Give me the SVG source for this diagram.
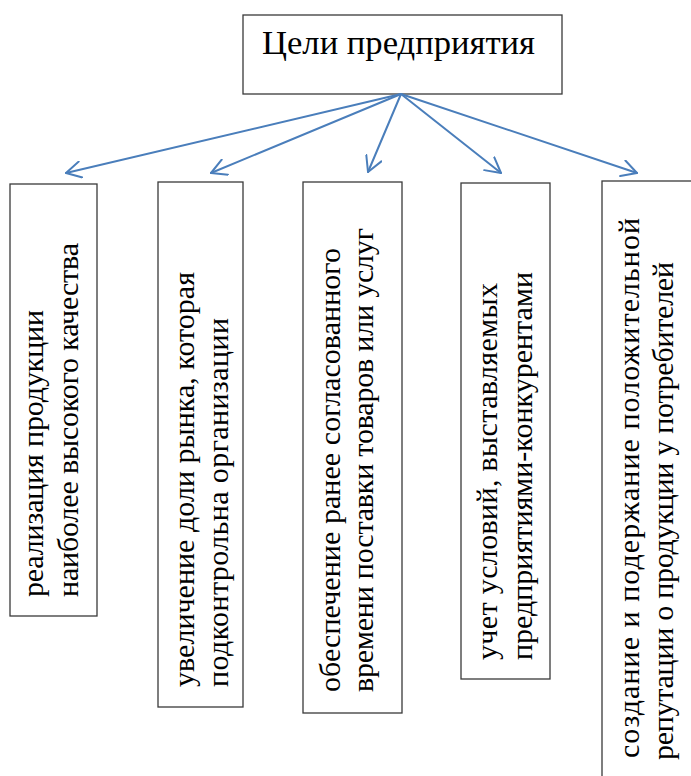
<svg xmlns="http://www.w3.org/2000/svg" width="691" height="776" viewBox="0 0 691 776">
<style>
.box{fill:#fff;stroke:#3a3a3a;stroke-width:1.3}
.t{font-size:30px;fill:#000}
.title{font-size:34.5px;fill:#000}
.conn{stroke:#4a7ebb;stroke-width:2;fill:none;stroke-linecap:round;marker-end:url(#arr)}
</style>
<defs>
<marker id="arr" viewBox="0 0 17 18" refX="16" refY="9" markerWidth="17" markerHeight="18" markerUnits="userSpaceOnUse" orient="auto">
<path d="M1,0.8 L16,9 L1,17.2" fill="none" stroke="#4a7ebb" stroke-width="2" stroke-linecap="round" stroke-linejoin="round"/>
</marker>
</defs>
<rect width="691" height="776" fill="#fff"/>
<g font-family="'Liberation Serif', 'Times New Roman', serif">
<g id="root">
<rect class="box" x="243" y="15" width="319" height="79"/>
<text class="title" x="262" y="54" textLength="273" lengthAdjust="spacingAndGlyphs">Цели предприятия</text>
</g>
<g id="connectors">
<line class="conn" x1="401" y1="94" x2="66" y2="173"/>
<line class="conn" x1="401" y1="94" x2="211" y2="173"/>
<line class="conn" x1="401" y1="94" x2="368" y2="172"/>
<line class="conn" x1="401" y1="94" x2="501" y2="173"/>
<line class="conn" x1="401" y1="94" x2="637" y2="173"/>
</g>
<g id="goal1">
<rect class="box" x="10" y="184" width="87" height="432"/>
<g transform="translate(43,597) rotate(-90)"><text class="t" x="0" y="0" textLength="287" lengthAdjust="spacing">реализация продукции</text></g>
<g transform="translate(78,597) rotate(-90)"><text class="t" x="0" y="0" textLength="354" lengthAdjust="spacing">наиболее высокого качества</text></g>
</g>
<g id="goal2">
<rect class="box" x="158" y="182" width="85" height="525"/>
<g transform="translate(194,687) rotate(-90)"><text class="t" x="0" y="0" textLength="415" lengthAdjust="spacing">увеличение доли рынка, которая</text></g>
<g transform="translate(228,687) rotate(-90)"><text class="t" x="0" y="0" textLength="369" lengthAdjust="spacing">подконтрольна организации</text></g>
</g>
<g id="goal3">
<rect class="box" x="303" y="182" width="99" height="531"/>
<g transform="translate(340,692) rotate(-90)"><text class="t" x="0" y="0" textLength="444" lengthAdjust="spacing">обеспечение ранее согласованного</text></g>
<g transform="translate(373,692) rotate(-90)"><text class="t" x="0" y="0" textLength="464" lengthAdjust="spacing">времени поставки товаров или услуг</text></g>
</g>
<g id="goal4">
<rect class="box" x="461" y="183" width="89" height="496"/>
<g transform="translate(497,660) rotate(-90)"><text class="t" x="0" y="0" textLength="377" lengthAdjust="spacing">учет условий, выставляемых</text></g>
<g transform="translate(532,660) rotate(-90)"><text class="t" x="0" y="0" textLength="388" lengthAdjust="spacing">предприятиями-конкурентами</text></g>
</g>
<g id="goal5">
<rect class="box" x="602" y="181" width="120" height="650"/>
<g transform="translate(639,758) rotate(-90)"><text class="t" x="0" y="0" textLength="540" lengthAdjust="spacing">создание и подержание положительной</text></g>
<g transform="translate(673,760) rotate(-90)"><text class="t" x="0" y="0" textLength="498" lengthAdjust="spacing">репутации о продукции у потребителей</text></g>
</g>
</g>
</svg>
